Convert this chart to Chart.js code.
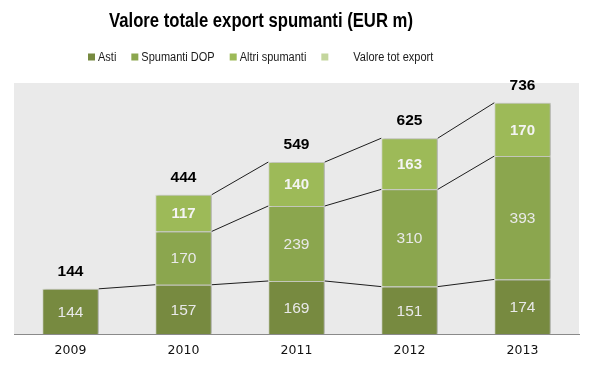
<!DOCTYPE html>
<html>
<head>
<meta charset="utf-8">
<script src="https://cdn.jsdelivr.net/npm/chart.js@4.4.1/dist/chart.umd.min.js"></script>
<style>
  html, body { margin: 0; padding: 0; background: #ffffff; }
  #wrap { position: relative; width: 594px; height: 367px; }
</style>
</head>
<body>
<div id="wrap"><canvas id="c" width="594" height="367"></canvas></div>
<script>
const chartTitle = 'Valore totale export spumanti (EUR m)';
const years = ['2009', '2010', '2011', '2012', '2013'];
const asti = [144, 157, 169, 151, 174];
const spumantiDOP = [null, 170, 239, 310, 393];
const altriSpumanti = [null, 117, 140, 163, 170];
const totali = [144, 444, 549, 625, 736];
const seriesNames = ['Asti', 'Spumanti DOP', 'Altri spumanti', 'Valore tot export'];
const seriesColors = ['#778a40', '#8ba64e', '#9dba58', '#c4d69d'];

const plotBg = {
  id: 'plotBg',
  beforeDraw(chart) {
    const { ctx, chartArea: a } = chart;
    ctx.save();
    ctx.fillStyle = '#eaeaea';
    ctx.fillRect(a.left, a.top, a.right - a.left, a.bottom - a.top);
    ctx.restore();
  }
};

const barShadow = {
  id: 'barShadow',
  beforeDatasetDraw(chart, args) {
    if (args.meta.type !== 'bar') return;
    const ctx = chart.ctx;
    ctx.save();
    ctx.shadowColor = 'rgba(0,0,0,0.22)';
    ctx.shadowOffsetX = 2;
    ctx.shadowOffsetY = 0;
    ctx.shadowBlur = 2;
  },
  afterDatasetDraw(chart, args) {
    if (args.meta.type !== 'bar') return;
    chart.ctx.restore();
  }
};

const seriesLines = {
  id: 'seriesLines',
  afterDatasetsDraw(chart) {
    const ctx = chart.ctx;
    ctx.save();
    ctx.strokeStyle = '#1e1e1e';
    ctx.lineWidth = 1;
    [0, 1, 2].forEach(di => {
      const meta = chart.getDatasetMeta(di);
      const data = chart.data.datasets[di].data;
      for (let i = 0; i < data.length - 1; i++) {
        if (data[i] == null || data[i + 1] == null) continue;
        const a = meta.data[i], b = meta.data[i + 1];
        ctx.beginPath();
        ctx.moveTo(a.x + a.width / 2, a.y);
        ctx.lineTo(b.x - b.width / 2, b.y);
        ctx.stroke();
      }
    });
    ctx.restore();
  }
};

const labelsPlugin = {
  id: 'labelsPlugin',
  afterDatasetsDraw(chart) {
    const ctx = chart.ctx;
    ctx.save();
    ctx.textAlign = 'center';
    ctx.textBaseline = 'middle';
    [0, 1, 2].forEach(di => {
      const meta = chart.getDatasetMeta(di);
      const data = chart.data.datasets[di].data;
      meta.data.forEach((el, i) => {
        if (data[i] == null) return;
        const yMid = (el.y + el.base) / 2;
        if (di === 2) {
          ctx.font = 'bold 15px "Liberation Sans", Arial, sans-serif';
          ctx.fillStyle = '#f4f4f4';
        } else {
          ctx.font = '15.5px "Liberation Sans", Arial, sans-serif';
          ctx.fillStyle = '#e9e9e9';
        }
        ctx.fillText(String(data[i]), el.x, yMid + 1);
      });
    });
    const tmeta = chart.getDatasetMeta(3);
    ctx.font = 'bold 15.5px "Liberation Sans", Arial, sans-serif';
    ctx.fillStyle = '#000000';
    tmeta.data.forEach((pt, i) => {
      ctx.fillText(String(totali[i]), pt.x, pt.y - 17);
    });
    ctx.restore();
  }
};

function scaledText(ctx, text, x, y, sx) {
  ctx.save();
  ctx.translate(x, y);
  ctx.scale(sx, 1);
  ctx.fillText(text, 0, 0);
  ctx.restore();
  return ctx.measureText(text).width * sx;
}

const titleLegend = {
  id: 'titleLegend',
  afterDraw(chart) {
    const ctx = chart.ctx;
    ctx.save();
    ctx.fillStyle = '#000000';
    ctx.font = 'bold 19.5px "Liberation Sans", Arial, sans-serif';
    ctx.textAlign = 'center';
    ctx.textBaseline = 'middle';
    scaledText(ctx, chartTitle, 261, 22, 0.855);
    ctx.font = '12.5px "Liberation Sans", Arial, sans-serif';
    ctx.textAlign = 'left';
    let x = 88;
    const y = 57;
    seriesNames.forEach((name, i) => {
      ctx.fillStyle = seriesColors[i];
      ctx.fillRect(x, y - 3.5, 7, 7);
      const tx = x + 7 + (i === 3 ? 25 : 3);
      ctx.fillStyle = '#1a1a1a';
      const w = scaledText(ctx, name, tx, y + 0.5, 0.88);
      x = tx + w + 15;
    });
    ctx.restore();
  }
};

const barBorder = 'rgba(210,214,200,0.9)';
new Chart(document.getElementById('c'), {
  type: 'bar',
  data: {
    labels: years,
    datasets: [
      { label: seriesNames[0], data: asti, backgroundColor: seriesColors[0], borderColor: barBorder, borderWidth: 1, stack: 's' },
      { label: seriesNames[1], data: spumantiDOP, backgroundColor: seriesColors[1], borderColor: barBorder, borderWidth: 1, stack: 's' },
      { label: seriesNames[2], data: altriSpumanti, backgroundColor: seriesColors[2], borderColor: barBorder, borderWidth: 1, stack: 's' },
      { label: seriesNames[3], type: 'line', data: totali, showLine: false, pointRadius: 0, borderColor: 'rgba(0,0,0,0)', backgroundColor: 'rgba(0,0,0,0)', stack: 'tot' }
    ]
  },
  options: {
    responsive: false,
    animation: false,
    devicePixelRatio: 1,
    layout: { padding: { left: 14, right: 15, top: 83, bottom: 0 } },
    datasets: { bar: { barPercentage: 0.5, categoryPercentage: 1.0 } },
    plugins: {
      legend: { display: false },
      title: { display: false },
      tooltip: { enabled: false }
    },
    scales: {
      x: {
        stacked: true,
        grid: { display: false, drawTicks: false },
        border: { display: true, color: '#8a8a8a', width: 1 },
        ticks: { color: '#111111', padding: 9, font: { family: '"DejaVu Sans", Verdana, sans-serif', size: 12.5 } },
        afterFit(s) { s.height = 33; }
      },
      y: {
        stacked: true,
        display: false,
        min: 0,
        max: 800
      }
    }
  },
  plugins: [plotBg, barShadow, seriesLines, labelsPlugin, titleLegend]
});
</script>
</body>
</html>
